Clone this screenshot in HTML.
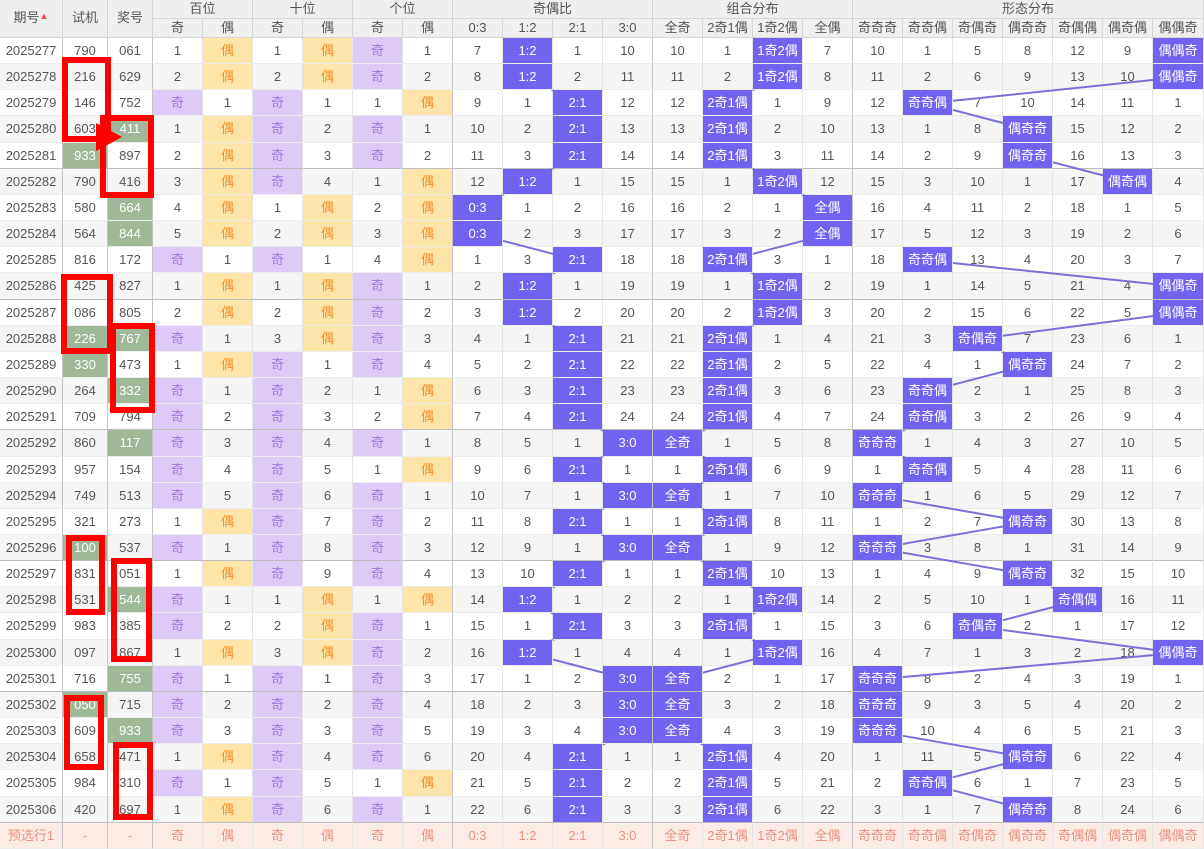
<!DOCTYPE html>
<html><head><meta charset="utf-8"><style>
*{margin:0;padding:0;box-sizing:border-box}
body{width:1204px;height:848px;overflow:hidden;background:#fff;font-family:"Liberation Sans","Noto Sans CJK SC",sans-serif;font-size:13px;color:#555}
#w{position:relative;width:1204px;height:848px}
.hd{position:absolute;background:#efefef;text-align:center;border-right:1px solid #d6d6d6;border-bottom:1px solid #d6d6d6;color:#555}
#body{position:absolute;left:0;top:38px;width:1204px}
.r{display:flex;height:26.17px;background:#fff}
.r.z{background:#f5f5f5}
.r>*{display:block;width:50px;flex:none;height:100%;text-align:center;line-height:26px;border-right:1px solid #e4e4e4;border-bottom:1px solid #ececec}
.r.s>*{border-bottom:1px solid #bdbdbd}
.r>*:nth-child(1){width:63px;border-right-color:#c4c4c4}
.r>*:nth-child(2),.r>*:nth-child(3){width:45px;border-right-color:#c4c4c4}
.r>*:nth-child(9),.r>*:nth-child(13),.r>*:nth-child(17){border-right-color:#c4c4c4}
.r>*:nth-child(24){width:51px}
o{background:#decaf8;color:#a378d8}
e{background:#fde4a9;color:#f0902a}
h{background:#7163f0;color:#fff;position:relative;z-index:2}
g{background:#9eb898;color:#fff}
.r.p{background:#fdebe5;color:#ea937f}
svg{position:absolute;left:0;top:0;z-index:1}
.bx{position:absolute;border:6px solid #f00;z-index:3}
</style></head><body><div id="w">
<div class="hd" style="left:0;top:0;width:63px;height:38px;line-height:36px">期号<span style="font-size:9px;color:#e44;position:relative;top:-3px">▲</span></div>
<div class="hd" style="left:63px;top:0;width:45px;height:38px;line-height:36px">试机</div>
<div class="hd" style="left:108px;top:0;width:45px;height:38px;line-height:36px">奖号</div>
<div class="hd" style="left:153px;top:0;width:100px;height:19px;line-height:18px">百位</div>
<div class="hd" style="left:253px;top:0;width:100px;height:19px;line-height:18px">十位</div>
<div class="hd" style="left:353px;top:0;width:100px;height:19px;line-height:18px">个位</div>
<div class="hd" style="left:453px;top:0;width:200px;height:19px;line-height:18px">奇偶比</div>
<div class="hd" style="left:653px;top:0;width:200px;height:19px;line-height:18px">组合分布</div>
<div class="hd" style="left:853px;top:0;width:351px;height:19px;line-height:18px">形态分布</div>
<div class="hd" style="left:153px;top:19px;width:50px;height:19px;line-height:18px">奇</div>
<div class="hd" style="left:203px;top:19px;width:50px;height:19px;line-height:18px">偶</div>
<div class="hd" style="left:253px;top:19px;width:50px;height:19px;line-height:18px">奇</div>
<div class="hd" style="left:303px;top:19px;width:50px;height:19px;line-height:18px">偶</div>
<div class="hd" style="left:353px;top:19px;width:50px;height:19px;line-height:18px">奇</div>
<div class="hd" style="left:403px;top:19px;width:50px;height:19px;line-height:18px">偶</div>
<div class="hd" style="left:453px;top:19px;width:50px;height:19px;line-height:18px">0:3</div>
<div class="hd" style="left:503px;top:19px;width:50px;height:19px;line-height:18px">1:2</div>
<div class="hd" style="left:553px;top:19px;width:50px;height:19px;line-height:18px">2:1</div>
<div class="hd" style="left:603px;top:19px;width:50px;height:19px;line-height:18px">3:0</div>
<div class="hd" style="left:653px;top:19px;width:50px;height:19px;line-height:18px">全奇</div>
<div class="hd" style="left:703px;top:19px;width:50px;height:19px;line-height:18px">2奇1偶</div>
<div class="hd" style="left:753px;top:19px;width:50px;height:19px;line-height:18px">1奇2偶</div>
<div class="hd" style="left:803px;top:19px;width:50px;height:19px;line-height:18px">全偶</div>
<div class="hd" style="left:853px;top:19px;width:50px;height:19px;line-height:18px">奇奇奇</div>
<div class="hd" style="left:903px;top:19px;width:50px;height:19px;line-height:18px">奇奇偶</div>
<div class="hd" style="left:953px;top:19px;width:50px;height:19px;line-height:18px">奇偶奇</div>
<div class="hd" style="left:1003px;top:19px;width:50px;height:19px;line-height:18px">偶奇奇</div>
<div class="hd" style="left:1053px;top:19px;width:50px;height:19px;line-height:18px">奇偶偶</div>
<div class="hd" style="left:1103px;top:19px;width:50px;height:19px;line-height:18px">偶奇偶</div>
<div class="hd" style="left:1153px;top:19px;width:51px;height:19px;line-height:18px">偶偶奇</div>

<div id="body">
<div class="r"><c>2025277</c><c>790</c><c>061</c><c>1</c><e>偶</e><c>1</c><e>偶</e><o>奇</o><c>1</c><c>7</c><h>1:2</h><c>1</c><c>10</c><c>10</c><c>1</c><h>1奇2偶</h><c>7</c><c>10</c><c>1</c><c>5</c><c>8</c><c>12</c><c>9</c><h>偶偶奇</h></div>
<div class="r z"><c>2025278</c><c>216</c><c>629</c><c>2</c><e>偶</e><c>2</c><e>偶</e><o>奇</o><c>2</c><c>8</c><h>1:2</h><c>2</c><c>11</c><c>11</c><c>2</c><h>1奇2偶</h><c>8</c><c>11</c><c>2</c><c>6</c><c>9</c><c>13</c><c>10</c><h>偶偶奇</h></div>
<div class="r"><c>2025279</c><c>146</c><c>752</c><o>奇</o><c>1</c><o>奇</o><c>1</c><c>1</c><e>偶</e><c>9</c><c>1</c><h>2:1</h><c>12</c><c>12</c><h>2奇1偶</h><c>1</c><c>9</c><c>12</c><h>奇奇偶</h><c>7</c><c>10</c><c>14</c><c>11</c><c>1</c></div>
<div class="r z"><c>2025280</c><c>603</c><g>411</g><c>1</c><e>偶</e><o>奇</o><c>2</c><o>奇</o><c>1</c><c>10</c><c>2</c><h>2:1</h><c>13</c><c>13</c><h>2奇1偶</h><c>2</c><c>10</c><c>13</c><c>1</c><c>8</c><h>偶奇奇</h><c>15</c><c>12</c><c>2</c></div>
<div class="r s"><c>2025281</c><g>933</g><c>897</c><c>2</c><e>偶</e><o>奇</o><c>3</c><o>奇</o><c>2</c><c>11</c><c>3</c><h>2:1</h><c>14</c><c>14</c><h>2奇1偶</h><c>3</c><c>11</c><c>14</c><c>2</c><c>9</c><h>偶奇奇</h><c>16</c><c>13</c><c>3</c></div>
<div class="r z"><c>2025282</c><c>790</c><c>416</c><c>3</c><e>偶</e><o>奇</o><c>4</c><c>1</c><e>偶</e><c>12</c><h>1:2</h><c>1</c><c>15</c><c>15</c><c>1</c><h>1奇2偶</h><c>12</c><c>15</c><c>3</c><c>10</c><c>1</c><c>17</c><h>偶奇偶</h><c>4</c></div>
<div class="r"><c>2025283</c><c>580</c><g>664</g><c>4</c><e>偶</e><c>1</c><e>偶</e><c>2</c><e>偶</e><h>0:3</h><c>1</c><c>2</c><c>16</c><c>16</c><c>2</c><c>1</c><h>全偶</h><c>16</c><c>4</c><c>11</c><c>2</c><c>18</c><c>1</c><c>5</c></div>
<div class="r z"><c>2025284</c><c>564</c><g>844</g><c>5</c><e>偶</e><c>2</c><e>偶</e><c>3</c><e>偶</e><h>0:3</h><c>2</c><c>3</c><c>17</c><c>17</c><c>3</c><c>2</c><h>全偶</h><c>17</c><c>5</c><c>12</c><c>3</c><c>19</c><c>2</c><c>6</c></div>
<div class="r"><c>2025285</c><c>816</c><c>172</c><o>奇</o><c>1</c><o>奇</o><c>1</c><c>4</c><e>偶</e><c>1</c><c>3</c><h>2:1</h><c>18</c><c>18</c><h>2奇1偶</h><c>3</c><c>1</c><c>18</c><h>奇奇偶</h><c>13</c><c>4</c><c>20</c><c>3</c><c>7</c></div>
<div class="r z s"><c>2025286</c><c>425</c><c>827</c><c>1</c><e>偶</e><c>1</c><e>偶</e><o>奇</o><c>1</c><c>2</c><h>1:2</h><c>1</c><c>19</c><c>19</c><c>1</c><h>1奇2偶</h><c>2</c><c>19</c><c>1</c><c>14</c><c>5</c><c>21</c><c>4</c><h>偶偶奇</h></div>
<div class="r"><c>2025287</c><c>086</c><c>805</c><c>2</c><e>偶</e><c>2</c><e>偶</e><o>奇</o><c>2</c><c>3</c><h>1:2</h><c>2</c><c>20</c><c>20</c><c>2</c><h>1奇2偶</h><c>3</c><c>20</c><c>2</c><c>15</c><c>6</c><c>22</c><c>5</c><h>偶偶奇</h></div>
<div class="r z"><c>2025288</c><g>226</g><g>767</g><o>奇</o><c>1</c><c>3</c><e>偶</e><o>奇</o><c>3</c><c>4</c><c>1</c><h>2:1</h><c>21</c><c>21</c><h>2奇1偶</h><c>1</c><c>4</c><c>21</c><c>3</c><h>奇偶奇</h><c>7</c><c>23</c><c>6</c><c>1</c></div>
<div class="r"><c>2025289</c><g>330</g><c>473</c><c>1</c><e>偶</e><o>奇</o><c>1</c><o>奇</o><c>4</c><c>5</c><c>2</c><h>2:1</h><c>22</c><c>22</c><h>2奇1偶</h><c>2</c><c>5</c><c>22</c><c>4</c><c>1</c><h>偶奇奇</h><c>24</c><c>7</c><c>2</c></div>
<div class="r z"><c>2025290</c><c>264</c><g>332</g><o>奇</o><c>1</c><o>奇</o><c>2</c><c>1</c><e>偶</e><c>6</c><c>3</c><h>2:1</h><c>23</c><c>23</c><h>2奇1偶</h><c>3</c><c>6</c><c>23</c><h>奇奇偶</h><c>2</c><c>1</c><c>25</c><c>8</c><c>3</c></div>
<div class="r s"><c>2025291</c><c>709</c><c>794</c><o>奇</o><c>2</c><o>奇</o><c>3</c><c>2</c><e>偶</e><c>7</c><c>4</c><h>2:1</h><c>24</c><c>24</c><h>2奇1偶</h><c>4</c><c>7</c><c>24</c><h>奇奇偶</h><c>3</c><c>2</c><c>26</c><c>9</c><c>4</c></div>
<div class="r z"><c>2025292</c><c>860</c><g>117</g><o>奇</o><c>3</c><o>奇</o><c>4</c><o>奇</o><c>1</c><c>8</c><c>5</c><c>1</c><h>3:0</h><h>全奇</h><c>1</c><c>5</c><c>8</c><h>奇奇奇</h><c>1</c><c>4</c><c>3</c><c>27</c><c>10</c><c>5</c></div>
<div class="r"><c>2025293</c><c>957</c><c>154</c><o>奇</o><c>4</c><o>奇</o><c>5</c><c>1</c><e>偶</e><c>9</c><c>6</c><h>2:1</h><c>1</c><c>1</c><h>2奇1偶</h><c>6</c><c>9</c><c>1</c><h>奇奇偶</h><c>5</c><c>4</c><c>28</c><c>11</c><c>6</c></div>
<div class="r z"><c>2025294</c><c>749</c><c>513</c><o>奇</o><c>5</c><o>奇</o><c>6</c><o>奇</o><c>1</c><c>10</c><c>7</c><c>1</c><h>3:0</h><h>全奇</h><c>1</c><c>7</c><c>10</c><h>奇奇奇</h><c>1</c><c>6</c><c>5</c><c>29</c><c>12</c><c>7</c></div>
<div class="r"><c>2025295</c><c>321</c><c>273</c><c>1</c><e>偶</e><o>奇</o><c>7</c><o>奇</o><c>2</c><c>11</c><c>8</c><h>2:1</h><c>1</c><c>1</c><h>2奇1偶</h><c>8</c><c>11</c><c>1</c><c>2</c><c>7</c><h>偶奇奇</h><c>30</c><c>13</c><c>8</c></div>
<div class="r z s"><c>2025296</c><g>100</g><c>537</c><o>奇</o><c>1</c><o>奇</o><c>8</c><o>奇</o><c>3</c><c>12</c><c>9</c><c>1</c><h>3:0</h><h>全奇</h><c>1</c><c>9</c><c>12</c><h>奇奇奇</h><c>3</c><c>8</c><c>1</c><c>31</c><c>14</c><c>9</c></div>
<div class="r"><c>2025297</c><c>831</c><c>051</c><c>1</c><e>偶</e><o>奇</o><c>9</c><o>奇</o><c>4</c><c>13</c><c>10</c><h>2:1</h><c>1</c><c>1</c><h>2奇1偶</h><c>10</c><c>13</c><c>1</c><c>4</c><c>9</c><h>偶奇奇</h><c>32</c><c>15</c><c>10</c></div>
<div class="r z"><c>2025298</c><c>531</c><g>544</g><o>奇</o><c>1</c><c>1</c><e>偶</e><c>1</c><e>偶</e><c>14</c><h>1:2</h><c>1</c><c>2</c><c>2</c><c>1</c><h>1奇2偶</h><c>14</c><c>2</c><c>5</c><c>10</c><c>1</c><h>奇偶偶</h><c>16</c><c>11</c></div>
<div class="r"><c>2025299</c><c>983</c><c>385</c><o>奇</o><c>2</c><c>2</c><e>偶</e><o>奇</o><c>1</c><c>15</c><c>1</c><h>2:1</h><c>3</c><c>3</c><h>2奇1偶</h><c>1</c><c>15</c><c>3</c><c>6</c><h>奇偶奇</h><c>2</c><c>1</c><c>17</c><c>12</c></div>
<div class="r z"><c>2025300</c><c>097</c><c>867</c><c>1</c><e>偶</e><c>3</c><e>偶</e><o>奇</o><c>2</c><c>16</c><h>1:2</h><c>1</c><c>4</c><c>4</c><c>1</c><h>1奇2偶</h><c>16</c><c>4</c><c>7</c><c>1</c><c>3</c><c>2</c><c>18</c><h>偶偶奇</h></div>
<div class="r s"><c>2025301</c><c>716</c><g>755</g><o>奇</o><c>1</c><o>奇</o><c>1</c><o>奇</o><c>3</c><c>17</c><c>1</c><c>2</c><h>3:0</h><h>全奇</h><c>2</c><c>1</c><c>17</c><h>奇奇奇</h><c>8</c><c>2</c><c>4</c><c>3</c><c>19</c><c>1</c></div>
<div class="r z"><c>2025302</c><g>050</g><c>715</c><o>奇</o><c>2</c><o>奇</o><c>2</c><o>奇</o><c>4</c><c>18</c><c>2</c><c>3</c><h>3:0</h><h>全奇</h><c>3</c><c>2</c><c>18</c><h>奇奇奇</h><c>9</c><c>3</c><c>5</c><c>4</c><c>20</c><c>2</c></div>
<div class="r"><c>2025303</c><c>609</c><g>933</g><o>奇</o><c>3</c><o>奇</o><c>3</c><o>奇</o><c>5</c><c>19</c><c>3</c><c>4</c><h>3:0</h><h>全奇</h><c>4</c><c>3</c><c>19</c><h>奇奇奇</h><c>10</c><c>4</c><c>6</c><c>5</c><c>21</c><c>3</c></div>
<div class="r z"><c>2025304</c><c>658</c><c>471</c><c>1</c><e>偶</e><o>奇</o><c>4</c><o>奇</o><c>6</c><c>20</c><c>4</c><h>2:1</h><c>1</c><c>1</c><h>2奇1偶</h><c>4</c><c>20</c><c>1</c><c>11</c><c>5</c><h>偶奇奇</h><c>6</c><c>22</c><c>4</c></div>
<div class="r"><c>2025305</c><c>984</c><c>310</c><o>奇</o><c>1</c><o>奇</o><c>5</c><c>1</c><e>偶</e><c>21</c><c>5</c><h>2:1</h><c>2</c><c>2</c><h>2奇1偶</h><c>5</c><c>21</c><c>2</c><h>奇奇偶</h><c>6</c><c>1</c><c>7</c><c>23</c><c>5</c></div>
<div class="r z s"><c>2025306</c><c>420</c><c>697</c><c>1</c><e>偶</e><o>奇</o><c>6</c><o>奇</o><c>1</c><c>22</c><c>6</c><h>2:1</h><c>3</c><c>3</c><h>2奇1偶</h><c>6</c><c>22</c><c>3</c><c>1</c><c>7</c><h>偶奇奇</h><c>8</c><c>24</c><c>6</c></div>
<div class="r p"><c>预选行1</c><c>-</c><c>-</c><c>奇</c><c>偶</c><c>奇</c><c>偶</c><c>奇</c><c>偶</c><c>0:3</c><c>1:2</c><c>2:1</c><c>3:0</c><c>全奇</c><c>2奇1偶</c><c>1奇2偶</c><c>全偶</c><c>奇奇奇</c><c>奇奇偶</c><c>奇偶奇</c><c>偶奇奇</c><c>奇偶偶</c><c>偶奇偶</c><c>偶偶奇</c></div>
</div>

<svg width="1204" height="848" viewBox="0 0 1204 848">
<g fill="none" stroke="#7a70d8" stroke-width="2">
<polyline points="528,51.1 528,77.3 578,103.4 578,129.6 578,155.8 528,181.9 478,208.1 478,234.3 578,260.4 528,286.6 528,312.8 578,339 578,365.1 578,391.3 578,417.5 628,443.6 578,469.8 628,496 578,522.1 628,548.3 578,574.5 528,600.6 578,626.8 528,653 628,679.2 628,705.3 628,731.5 578,757.7 578,783.8 578,810"/>
<polyline points="778,51.1 778,77.3 728,103.4 728,129.6 728,155.8 778,181.9 828,208.1 828,234.3 728,260.4 778,286.6 778,312.8 728,339 728,365.1 728,391.3 728,417.5 678,443.6 728,469.8 678,496 728,522.1 678,548.3 728,574.5 778,600.6 728,626.8 778,653 678,679.2 678,705.3 678,731.5 728,757.7 728,783.8 728,810"/>
<polyline points="1178,51.1 1178,77.3 928,103.4 1028,129.6 1028,155.8 1128,181.9"/>
<polyline points="928,260.4 1178,286.6 1178,312.8 978,339 1028,365.1 928,391.3 928,417.5 878,443.6 928,469.8 878,496 1028,522.1 878,548.3 1028,574.5 1078,600.6 978,626.8 1178,653 878,679.2 878,705.3 878,731.5 1028,757.7 928,783.8 1028,810"/>
</g>
</svg>

<div class="bx" style="left:62px;top:57px;width:49px;height:85px"></div>
<div class="bx" style="left:100px;top:115px;width:54px;height:83px"></div>
<svg width="1204" height="848" style="z-index:4"><polygon points="96,123 122,137 96,151" fill="#f00"/></svg>
<div class="bx" style="left:61px;top:274px;width:52px;height:80px"></div>
<div class="bx" style="left:110px;top:323px;width:45px;height:90px"></div>
<div class="bx" style="left:66px;top:535px;width:39px;height:80px"></div>
<div class="bx" style="left:111px;top:558px;width:41px;height:104px"></div>
<div class="bx" style="left:64px;top:695px;width:40px;height:75px"></div>
<div class="bx" style="left:113px;top:742px;width:40px;height:78px"></div>
</div></body></html>
